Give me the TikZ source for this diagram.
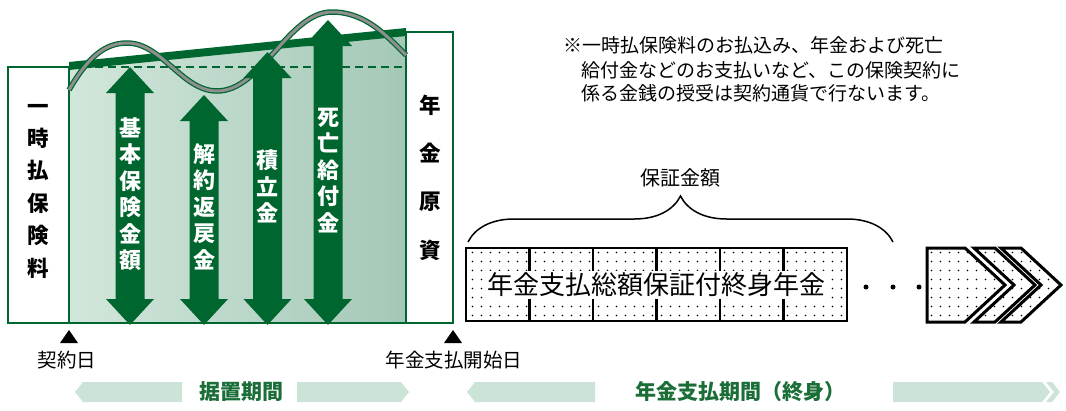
\documentclass[tikz,border=0pt]{standalone}
\usepackage{fontspec}
\usepackage{xcolor}
\usepackage{tikz}
\usetikzlibrary{decorations.pathreplacing}
\usetikzlibrary{patterns}
\newfontfamily\jp{Noto Sans CJK JP}
\definecolor{darkgreen}{HTML}{00662F}
\definecolor{labelgreen}{HTML}{1B6E38}
\definecolor{bandgreen}{HTML}{CCE3D7}
\definecolor{fillleft}{HTML}{D2E7DB}
\definecolor{fillright}{HTML}{A4C8B7}
\definecolor{wavegray}{HTML}{8F8F8F}
\pgfdeclarepatternformonly{sdots}{\pgfqpoint{-1pt}{-1pt}}{\pgfqpoint{10pt}{10pt}}{\pgfqpoint{9pt}{9pt}}{%
  \pgfpathcircle{\pgfqpoint{4.5pt}{4.5pt}}{0.95pt}\pgfusepath{fill}}

\begin{document}
\begin{tikzpicture}[x=1pt, y=-1pt, font=\jp,
  vtext/.style={align=center, text=white, font=\jp\bfseries\fontsize{22}{26.5}\selectfont},
  boxtext/.style={align=center, font=\jp\bfseries\fontsize{21.5}{32.4}\selectfont},
  periodtext/.style={text=labelgreen, font=\jp\bfseries\fontsize{21}{24}\selectfont},
  datetext/.style={font=\jp\fontsize{19.5}{22}\selectfont},
  notetext/.style={anchor=west, font=\jp\fontsize{19}{22}\selectfont}]
  \useasboundingbox (0,0) rectangle (1066,410);

  % Green area (deferment period)
  \shade[left color=fillleft, right color=fillright] (69,69) -- (406,35) -- (406,323) -- (69,323) -- cycle;
  \draw[darkgreen, line width=2pt, dash pattern=on 8pt off 5pt] (69,67) -- (406,67);
  \fill[darkgreen] (69,62) -- (406,28) -- (406,36) -- (69,70) -- cycle;

  % Boxes left and right
  \draw[darkgreen, line width=1.2pt, fill=white] (8,67) rectangle (69,323);
  \draw[darkgreen, line width=1.2pt, fill=white] (406,32) rectangle (453,323);
  \draw[darkgreen, line width=1.2pt] (69,69) -- (69,323) -- (406,323);

  % Wave
  \draw[darkgreen, line width=5.5pt] (69,90) .. controls (88,57) and (105,43) .. (127,43)
    .. controls (162,43) and (182,91) .. (217,91) .. controls (262,91) and (288,12) .. (332,12)
    .. controls (365,12) and (386,35) .. (406,55);
  \draw[wavegray, line width=3pt] (69,90) .. controls (88,57) and (105,43) .. (127,43)
    .. controls (162,43) and (182,91) .. (217,91) .. controls (262,91) and (288,12) .. (332,12)
    .. controls (365,12) and (386,35) .. (406,55);

  % Double arrows
  \fill[darkgreen] (130,67) -- ++(24,26) -- ++(-9.5,0) -- ++(0,206) -- ++(9.5,0) -- ++(-24,26)
    -- ++(-24,-26) -- ++(9.5,0) -- ++(0,-206) -- ++(-9.5,0) -- cycle;
  \fill[darkgreen] (204,95) -- ++(24,26) -- ++(-9.5,0) -- ++(0,178) -- ++(9.5,0) -- ++(-24,26)
    -- ++(-24,-26) -- ++(9.5,0) -- ++(0,-178) -- ++(-9.5,0) -- cycle;
  \fill[darkgreen] (267.5,52) -- ++(24,26) -- ++(-9.5,0) -- ++(0,221) -- ++(9.5,0) -- ++(-24,26)
    -- ++(-24,-26) -- ++(9.5,0) -- ++(0,-221) -- ++(-9.5,0) -- cycle;
  \fill[darkgreen] (328,20) -- ++(24,26) -- ++(-9.5,0) -- ++(0,253) -- ++(9.5,0) -- ++(-24,26)
    -- ++(-24,-26) -- ++(9.5,0) -- ++(0,-253) -- ++(-9.5,0) -- cycle;

  % Labels
  \node[vtext] (basic) at (130,194) {基\\本\\保\\険\\金\\額};
  \node[vtext] (surrender) at (204,206.5) {解\\約\\返\\戻\\金};
  \node[vtext] (reserve) at (267.5,186.5) {積\\立\\金};
  \node[vtext] (death) at (328,170.5) {死\\亡\\給\\付\\金};
  \node[boxtext] (premium) at (38,191) {一\\時\\払\\保\\険\\料};
  \node[boxtext, font=\jp\bfseries\fontsize{21.5}{48.3}\selectfont] (fund) at (430,177.5) {年\\金\\原\\資};

  % Note
  \node[notetext] (note1) at (560,45) {※一時払保険料のお払込み、年金および死亡};
  \node[notetext] (note2) at (578,70) {給付金などのお支払いなど、この保険契約に};
  \node[notetext] (note3) at (578,93) {係る金銭の授受は契約通貨で行ないます。};

  % Annuity box
  \draw[line width=2.2pt, pattern=sdots] (466,248) rectangle (847,321);
  \draw[line width=2.2pt] (529.5,248) -- (529.5,321);
  \draw[line width=2.2pt] (593,248) -- (593,321);
  \draw[line width=2.2pt] (656.5,248) -- (656.5,321);
  \draw[line width=2.2pt] (720,248) -- (720,321);
  \draw[line width=2.2pt] (783.5,248) -- (783.5,321);
  \node[fill=white, inner sep=2pt, font=\jp\fontsize{26}{30}\selectfont] (annuity) at (656.5,285) {年金支払総額保証付終身年金};

  % Brace
  \draw[line width=1.5pt, decorate, decoration={brace, amplitude=46pt}] (468,242) -- (893,242);
  \node[font=\jp\fontsize{20}{24}\selectfont] (guarantee) at (680,178) {保証金額};

  % Dots and chevrons
  \fill (866,287) circle (2.5);
  \fill (893,287) circle (2.5);
  \fill (919,287) circle (2.5);
  \draw[line width=3pt, pattern=sdots, line join=miter] (927,248) -- (965,248) -- (1005,285) -- (965,322) -- (927,322) -- cycle;
  \draw[line width=3pt, pattern=sdots, line join=miter] (974,248) -- (995,248) -- (1035,285) -- (995,322) -- (974,322) -- (1014,285) -- cycle;
  \draw[line width=3pt, pattern=sdots, line join=miter] (1001,248) -- (1021,248) -- (1061,285) -- (1021,322) -- (1001,322) -- (1041,285) -- cycle;

  % Time line
  \fill (69,330) -- (78,343) -- (60,343) -- cycle;
  \fill (453,330) -- (462,343) -- (444,343) -- cycle;
  \node[datetext] (contract) at (67,360) {契約日};
  \node[datetext] (start) at (454,360) {年金支払開始日};

  % Periods
  \fill[bandgreen] (75,392) -- (83,382) -- (182,382) -- (182,402) -- (83,402) -- cycle;
  \fill[bandgreen] (297,382) -- (401,382) -- (409,392) -- (401,402) -- (297,402) -- cycle;
  \node[periodtext] (defer) at (241,392) {据置期間};
  \fill[bandgreen] (467,392) -- (475,382) -- (595,382) -- (595,402) -- (475,402) -- cycle;
  \fill[bandgreen] (893,382) -- (1042,382) -- (1050,392) -- (1042,402) -- (893,402) -- cycle;
  \fill[bandgreen] (1046,382) -- (1052,382) -- (1060,392) -- (1052,402) -- (1046,402) -- (1054,392) -- cycle;
  \node[periodtext] (payout) at (740,392) {年金支払期間（終身）};
\end{tikzpicture}
\end{document}
